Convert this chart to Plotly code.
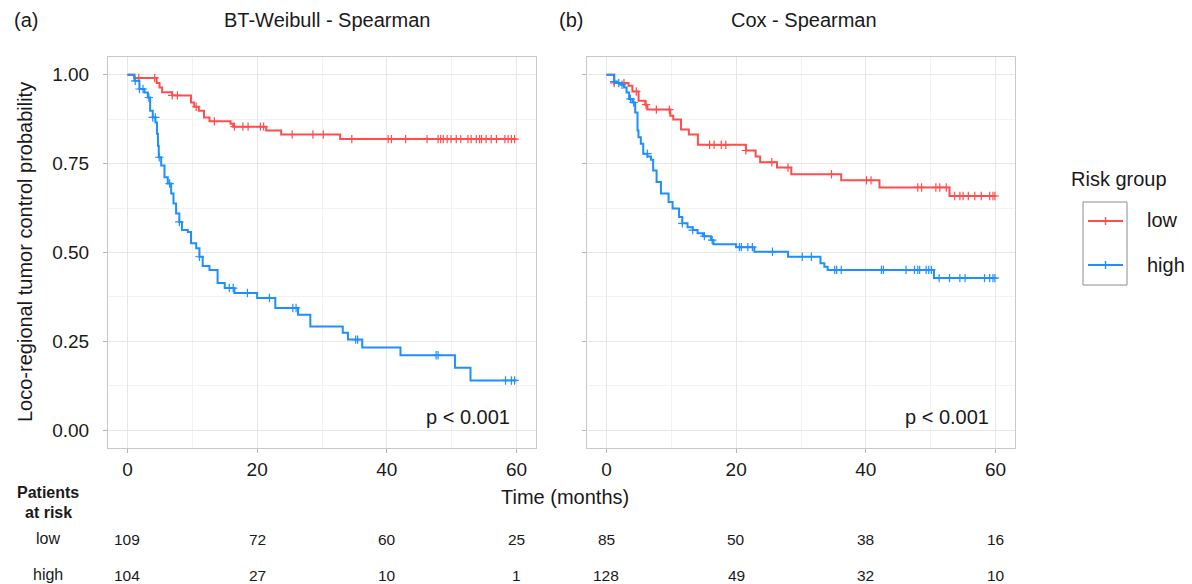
import numpy as np
import plotly.graph_objects as go

# ---------------- data ----------------
# Panel (a): BT-Weibull - Spearman
a_low_t = [0, 1.05, 4.5, 4.95, 5.35, 6.9, 9.8, 10.3, 11.0, 11.8, 12.65, 15.9, 16.3, 21.4, 23.7, 32.8, 60]
a_low_s = [1.0, 0.991, 0.977, 0.964, 0.951, 0.942, 0.922, 0.910, 0.899, 0.880, 0.869, 0.862, 0.854, 0.843, 0.832, 0.819, 0.819]
a_low_cens = [1.75, 4.2, 6.9, 7.7, 10.6, 13.4, 16.5, 17.8, 18.6, 20.5, 21.0, 25.4, 28.6, 30.2, 34.6, 40.2, 40.7,
              42.9, 46.2, 47.9, 48.3, 48.7, 49.3, 49.9, 50.7, 51.4, 52.5, 53.0, 53.8, 54.3, 54.6, 55.3, 56.1,
              56.9, 58.2, 58.7, 59.2, 59.7]

a_high_t = [0, 1.08, 1.85, 2.62, 3.14, 3.5, 3.9, 4.32, 4.55, 4.7, 4.83, 5.2, 5.71, 6.22, 6.74, 7.1, 7.5, 8.0, 8.4,
            9.3, 9.8, 10.6, 11.1, 11.6, 12.65, 13.9, 15.0, 16.5, 20.0, 22.8, 26.3, 28.2, 33.2, 34.0, 36.2,
            42.1, 50.5, 52.9, 60]
a_high_s = [1.0, 0.983, 0.96, 0.95, 0.936, 0.899, 0.880, 0.866, 0.834, 0.80, 0.768, 0.745, 0.712, 0.694, 0.666,
            0.638, 0.610, 0.586, 0.563, 0.558, 0.526, 0.512, 0.488, 0.462, 0.451, 0.414, 0.400, 0.386, 0.372,
            0.344, 0.325, 0.292, 0.274, 0.255, 0.233, 0.211, 0.176, 0.140, 0.140]
a_high_cens = [1.2, 1.85, 2.4, 3.3, 3.9, 4.3, 4.9, 6.5, 8.0, 11.1, 15.7, 16.3, 18.5, 21.9, 25.5, 26.0, 35.2,
               35.5, 47.6, 47.9, 58.3, 59.2, 59.7]

# Panel (b): Cox - Spearman
b_low_t = [0, 1.2, 3.4, 4.0, 4.95, 5.98, 6.3, 9.85, 10.3, 11.5, 12.7, 14.1, 21.5, 23.0, 23.7, 26.3, 28.5,
           36.2, 42.1, 52.9, 60]
b_low_s = [1.0, 0.977, 0.969, 0.953, 0.927, 0.916, 0.902, 0.885, 0.874, 0.846, 0.832, 0.803, 0.787, 0.770,
           0.754, 0.739, 0.720, 0.703, 0.683, 0.659, 0.659]
b_low_cens = [1.2, 2.7, 4.6, 6.1, 7.7, 9.7, 15.9, 16.6, 17.7, 18.4, 21.5, 25.5, 28.0, 34.7, 40.1, 40.8, 48.0,
              48.6, 50.8, 51.4, 52.4, 53.7, 54.5, 55.0, 55.8, 56.8, 57.8, 59.1, 59.6, 59.9]

b_high_t = [0, 1.19, 1.70, 2.22, 2.73, 3.1, 3.5, 4.0, 4.43, 4.79, 4.94, 5.3, 5.67, 6.33, 6.86, 7.2, 7.73,
            8.4, 9.58, 10.2, 11.2, 11.7, 12.5, 13.3, 14.05, 14.9, 16.1, 16.5, 20.0, 22.8, 28.0, 33.0, 33.6,
            34.1, 50.5, 60]
b_high_s = [1.0, 0.981, 0.977, 0.972, 0.964, 0.950, 0.932, 0.922, 0.894, 0.843, 0.824, 0.806, 0.778, 0.770,
            0.761, 0.731, 0.698, 0.666, 0.642, 0.624, 0.600, 0.582, 0.571, 0.563, 0.554, 0.546, 0.535, 0.523,
            0.515, 0.502, 0.488, 0.470, 0.460, 0.451, 0.428, 0.428]
b_high_cens = [1.2, 1.9, 2.4, 3.7, 4.2, 6.3, 11.7, 13.3, 15.1, 16.3, 20.5, 20.8, 21.8, 22.5, 25.6, 30.2, 31.6,
               35.2, 35.5, 36.2, 42.4, 42.7, 46.2, 47.5, 48.0, 48.3, 49.3, 49.7, 50.1, 51.3, 52.9, 54.5, 55.3,
               58.3, 59.1, 59.6, 59.9]

panel_titles = ["BT-Weibull - Spearman", "Cox - Spearman"]
panel_tags = ["(a)", "(b)"]
groups = ["low", "high"]
risk_times = [0, 20, 40, 60]
a_risk_low = [109, 72, 60, 25]
a_risk_high = [104, 27, 10, 1]
b_risk_low = [85, 50, 38, 16]
b_risk_high = [128, 49, 32, 10]
p_text = ["p < 0.001", "p < 0.001"]

# ---------------- styling ----------------
FONT = "Liberation Sans, Arial, Helvetica, sans-serif"
RED = "#FF4D4D"
BLUE = "#1E8FFF"
TXT = "#1a1a1a"
W, H = 1192, 584


def step_at(times, surv, c):
    idx = np.searchsorted(np.asarray(times), np.asarray(c), side="right") - 1
    return np.asarray(surv)[idx]


fig = go.Figure()

panels = [
    ("x", "y", a_low_t, a_low_s, a_low_cens, a_high_t, a_high_s, a_high_cens),
    ("x2", "y2", b_low_t, b_low_s, b_low_cens, b_high_t, b_high_s, b_high_cens),
]
for xa, ya, lt, ls, lc, ht, hs, hc in panels:
    for t, s, c, col, name in [(lt, ls, lc, RED, "low"), (ht, hs, hc, BLUE, "high")]:
        fig.add_trace(go.Scatter(x=t, y=s, mode="lines", line=dict(color=col, width=2, shape="hv"),
                                 xaxis=xa, yaxis=ya, showlegend=False, name=name, hoverinfo="skip"))
        fig.add_trace(go.Scatter(x=c, y=step_at(t, s, c), mode="markers",
                                 marker=dict(symbol="cross-thin", size=6, line=dict(width=1.2, color=col)),
                                 xaxis=xa, yaxis=ya, showlegend=False, name=name, hoverinfo="skip"))

dom_a = [108 / W, 536 / W]
dom_b = [587 / W, 1015 / W]
dom_y = [1 - 448 / H, 1 - 57 / H]

grid_major = "#e6e6e6"
grid_minor = "#f2f2f2"
border = "#c8c8c8"

xcommon = dict(range=[-3, 63], tickvals=risk_times, showgrid=True, gridcolor=grid_major, gridwidth=1,
               minor=dict(tickvals=[10, 30, 50], showgrid=True, gridcolor=grid_minor, gridwidth=1, ticks=""),
               ticks="outside", ticklen=4, tickcolor="#b3b3b3", tickwidth=1,
               showline=True, linecolor=border, linewidth=1, mirror=True, zeroline=False,
               tickfont=dict(family=FONT, size=19, color=TXT), ticklabelstandoff=0, fixedrange=True)
ycommon = dict(range=[-0.05, 1.05], tickvals=[0, 0.25, 0.5, 0.75, 1.0], tickformat=".2f",
               showgrid=True, gridcolor=grid_major, gridwidth=1,
               minor=dict(tickvals=[0.125, 0.375, 0.625, 0.875], showgrid=True, gridcolor=grid_minor,
                          gridwidth=1, ticks=""),
               ticks="outside", ticklen=4, tickcolor="#b3b3b3", tickwidth=1,
               showline=True, linecolor=border, linewidth=1, mirror=True, zeroline=False,
               tickfont=dict(family=FONT, size=19, color=TXT), ticklabelstandoff=10, fixedrange=True)

fig.update_layout(
    width=W, height=H, margin=dict(l=0, r=0, t=0, b=0),
    paper_bgcolor="white", plot_bgcolor="white", showlegend=False,
    font=dict(family=FONT, color=TXT),
    xaxis=dict(domain=dom_a, anchor="y", **xcommon),
    yaxis=dict(domain=dom_y, anchor="x", **ycommon),
    xaxis2=dict(domain=dom_b, anchor="y2", **xcommon),
    yaxis2=dict(domain=dom_y, anchor="x2", matches="y", showticklabels=False,
                **{k: v for k, v in ycommon.items() if k not in ("tickfont", "ticklabelstandoff")}),
)

ann = []


def px(xp):
    return xp / W


def py(yp):
    return 1 - yp / H


# panel tags & titles
ann.append(dict(text=panel_tags[0], x=px(12), y=py(20), xanchor="left", yanchor="middle", font_size=20))
ann.append(dict(text=panel_titles[0], x=px(327), y=py(20), xanchor="center", yanchor="middle", font_size=20))
ann.append(dict(text=panel_tags[1], x=px(557), y=py(20), xanchor="left", yanchor="middle", font_size=20))
ann.append(dict(text=panel_titles[1], x=px(804), y=py(20), xanchor="center", yanchor="middle", font_size=20))

# axis titles
ann.append(dict(text="Time (months)", x=px(565), y=py(497), xanchor="center", yanchor="middle", font_size=20))
ann.append(dict(text="Loco-regional tumor control probability", x=px(25), y=py(252), textangle=-90,
                xanchor="center", yanchor="middle", font_size=20))

# p-values
ann.append(dict(text=p_text[0], xref="x", yref="y", x=59.3, y=0.036, xanchor="right", yanchor="middle",
                font_size=20))
ann.append(dict(text=p_text[1], xref="x2", yref="y2", x=59.3, y=0.036, xanchor="right", yanchor="middle",
                font_size=20))

# risk table
ann.append(dict(text="<b>Patients</b>", x=px(48), y=py(492), xanchor="center", yanchor="middle", font_size=16))
ann.append(dict(text="<b>at risk</b>", x=px(48), y=py(512), xanchor="center", yanchor="middle", font_size=16))
ann.append(dict(text=groups[0], x=px(48), y=py(538), xanchor="center", yanchor="middle", font_size=16))
ann.append(dict(text=groups[1], x=px(48), y=py(574), xanchor="center", yanchor="middle", font_size=16))
for xr, low, high in [("x", a_risk_low, a_risk_high), ("x2", b_risk_low, b_risk_high)]:
    for t, lv, hv in zip(risk_times, low, high):
        ann.append(dict(text=str(lv), xref=xr, yref="paper", x=t, y=py(539), xanchor="center",
                        yanchor="middle", font_size=15.5))
        ann.append(dict(text=str(hv), xref=xr, yref="paper", x=t, y=py(575), xanchor="center",
                        yanchor="middle", font_size=15.5))

# legend
ann.append(dict(text="Risk group", x=px(1069), y=py(179), xanchor="left", yanchor="middle", font_size=20))
ann.append(dict(text=groups[0], x=px(1145), y=py(220), xanchor="left", yanchor="middle", font_size=20))
ann.append(dict(text=groups[1], x=px(1145), y=py(265), xanchor="left", yanchor="middle", font_size=20))

for a in ann:
    a.setdefault("xref", "paper")
    a.setdefault("yref", "paper")
    a["showarrow"] = False
    a["font"] = dict(family=FONT, color=TXT, size=a.pop("font_size"))
fig.update_layout(annotations=ann)

shapes = [
    dict(type="rect", xref="paper", yref="paper", x0=px(1083), x1=px(1127), y0=py(285), y1=py(202),
         line=dict(color="#8c8c8c", width=1)),
]
for col, yl in [(RED, 221), (BLUE, 265)]:
    shapes.append(dict(type="line", xref="paper", yref="paper", x0=px(1088), x1=px(1123), y0=py(yl), y1=py(yl),
                       line=dict(color=col, width=2)))
    shapes.append(dict(type="line", xref="paper", yref="paper", x0=px(1105.5), x1=px(1105.5), y0=py(yl - 4),
                       y1=py(yl + 4), line=dict(color=col, width=1.4)))
fig.update_layout(shapes=shapes)

fig.write_html("out.html")
